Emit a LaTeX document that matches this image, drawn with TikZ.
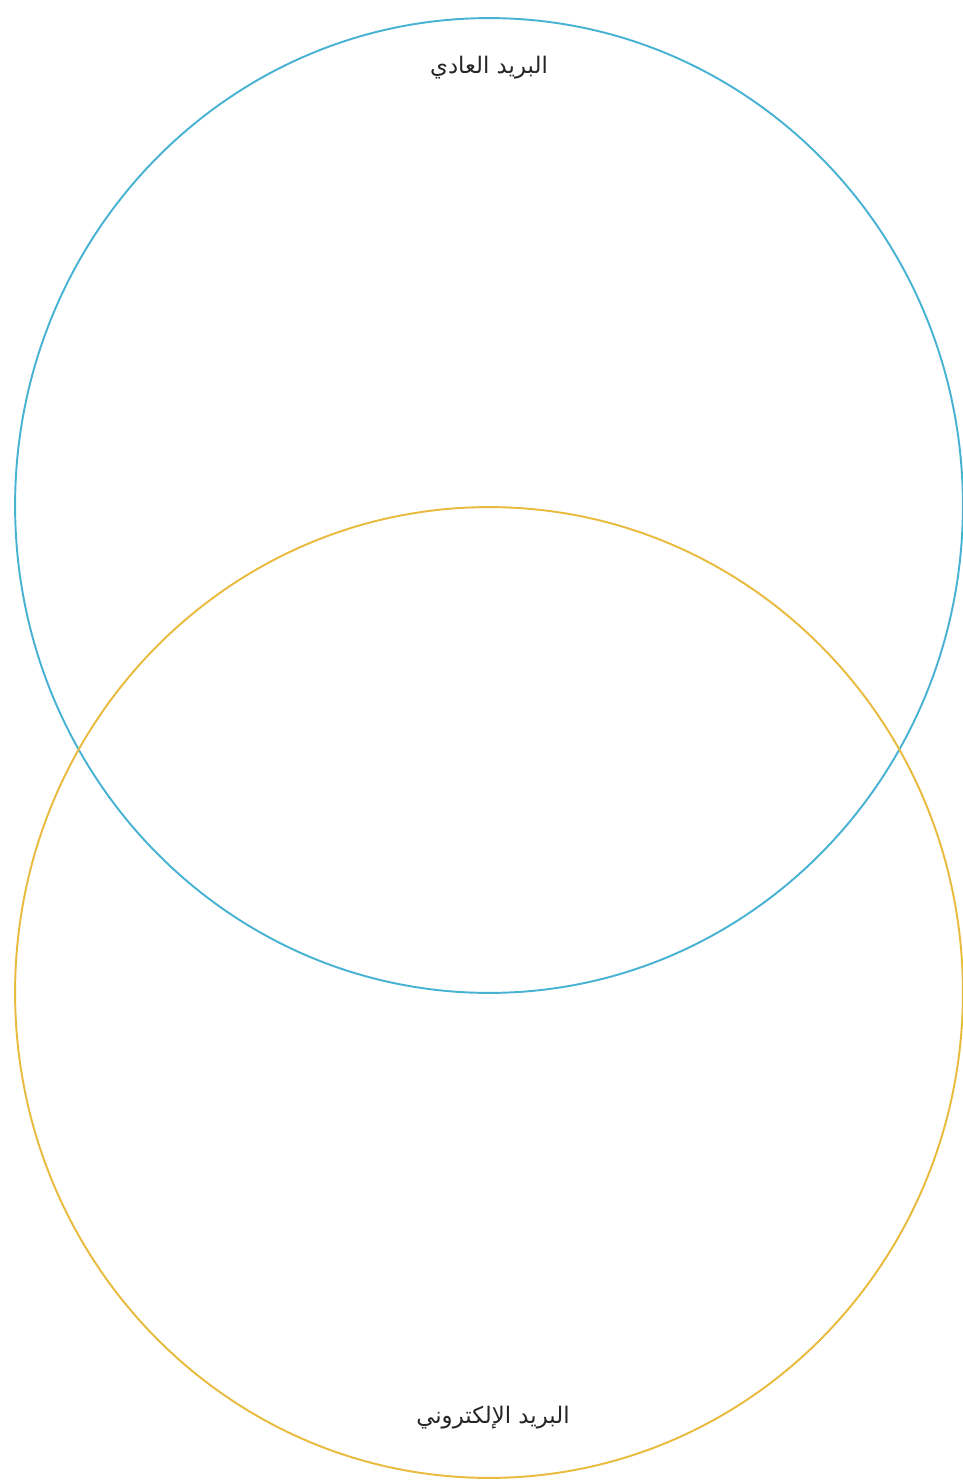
\documentclass[tikz,border=0pt]{standalone}
\usepackage{fontspec}
\usepackage{tikz}
\usetikzlibrary{shapes.geometric,positioning}
\TeXXeTstate=1
\newfontfamily\arabicfont[Script=Arabic]{DejaVu Sans}
\definecolor{vnblue}{RGB}{72,178,210}
\definecolor{vnorange}{RGB}{232,186,62}

\begin{document}
\begin{tikzpicture}[
  x=0.02cm, y=-0.02cm,
  font=\arabicfont\fontsize{13}{15}\selectfont,
  venn/.style={ellipse, minimum width=18.96cm, minimum height=19.5cm,
               inner sep=0pt, outer sep=0pt, line width=1.1pt},
  lbl/.style={inner sep=1pt, text=black!85}
]
\useasboundingbox (0,0) rectangle (963,1480);

% --- two overlapping sets ---
\node[venn, draw=vnblue]   (post)  at (489,505.5) {};
\node[venn, draw=vnorange, minimum height=19.42cm] (email) at (489,992.5) {};

% --- set labels ---
\node[lbl] (postlbl)  at (489,68)   {\beginR البريد العادي\endR};
\node[lbl] (emaillbl) at (493,1418) {\beginR البريد الإلكتروني\endR};

\end{tikzpicture}
\end{document}
